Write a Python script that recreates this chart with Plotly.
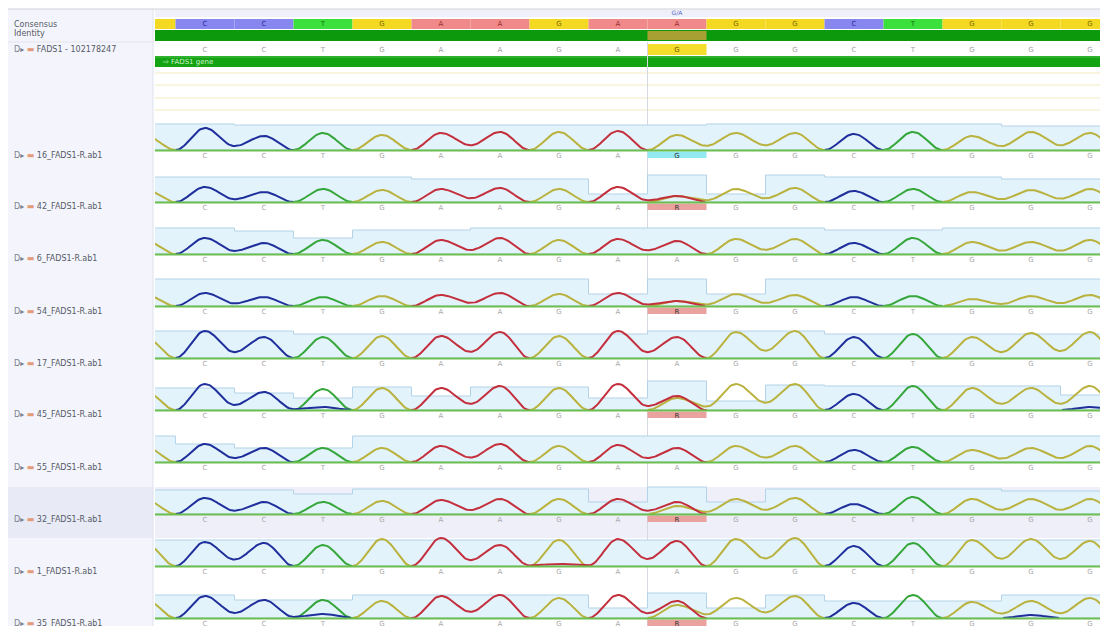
import numpy as np
import plotly.graph_objects as go

W, H = 1108, 626
PAGE_OFF = 8            # the page body margin shifts the figure by 8 px
LEFT_W = 155            # screen x where the alignment panel starts

# ---------------- data ----------------
COLS = list(range(-1, 16))                      # alignment columns (-1 is the partly visible one)
CONSENSUS = ["G", "C", "C", "T", "G", "A", "A", "G", "A", "A", "G", "G", "C", "T", "G", "G", "G"]
REFERENCE = ["G", "C", "C", "T", "G", "A", "A", "G", "A", "G", "G", "G", "C", "T", "G", "G", "G"]
SNP_COL = 8

SAMPLES = ["16_FADS1-R.ab1", "42_FADS1-R.ab1", "6_FADS1-R.ab1", "54_FADS1-R.ab1",
           "17_FADS1-R.ab1", "45_FADS1-R.ab1", "55_FADS1-R.ab1", "32_FADS1-R.ab1",
           "1_FADS1-R.ab1", "35_FADS1-R.ab1"]
SNP_CALLS = ["G", "R", "A", "R", "A", "R", "A", "R", "A", "R"]

# main peak height per column (cols -1..15); at an R column it is the A peak
PEAKS = [
    [14, 22, 14, 17, 15, 17, 18, 18, 19, 15, 17, 17, 16, 18, 14, 18, 17],
    [12, 15, 10, 13, 12, 13, 14, 13, 15, 6, 13, 14, 11, 13, 10, 12, 13],
    [13, 16, 11, 14, 12, 14, 16, 14, 15, 13, 15, 15, 11, 16, 12, 12, 14],
    [11, 13, 9, 9, 10, 11, 13, 12, 13, 5, 12, 11, 9, 10, 7, 10, 11],
    [20, 27, 21, 21, 22, 22, 26, 22, 27, 21, 26, 27, 21, 24, 21, 25, 26],
    [18, 26, 18, 21, 22, 22, 24, 22, 26, 14, 26, 26, 16, 24, 22, 22, 24],
    [15, 18, 14, 14, 14, 16, 18, 16, 17, 14, 16, 16, 12, 15, 12, 14, 16],
    [14, 16, 12, 12, 13, 14, 15, 15, 15, 12, 15, 16, 10, 17, 15, 15, 15],
    [22, 24, 23, 21, 27, 28, 21, 26, 27, 25, 27, 28, 20, 23, 26, 27, 25],
    [18, 22, 18, 18, 17, 22, 23, 20, 23, 17, 20, 22, 15, 23, 16, 17, 20],
]
# G peak height under the heterozygous R call
HET_G = [0, 6, 0, 5, 0, 12, 0, 8, 0, 13]
# small secondary peaks: (sample index, column, base, height)
MINOR = [(5, 2, "C", 3), (5, 15, "C", 3), (9, 2, "C", 4), (9, 14, "C", 3), (8, 6, "A", 2)]

# quality bar heights per column (cols -1..15)
QUAL = [
    [26, 26, 25, 25, 25, 25, 25, 25, 25, 25, 26, 26, 26, 26, 26, 24, 24],
    [25, 25, 25, 25, 25, 23, 23, 23, 8, 27, 8, 27, 25, 25, 25, 23, 23],
    [26, 26, 23, 16, 24, 24, 26, 26, 26, 26, 26, 26, 24, 24, 26, 26, 26],
    [27, 27, 27, 27, 27, 27, 27, 27, 12, 27, 12, 27, 27, 27, 27, 27, 27],
    [27, 27, 27, 24, 24, 24, 24, 24, 24, 27, 27, 27, 24, 24, 24, 24, 24],
    [22, 22, 17, 12, 23, 14, 23, 23, 12, 29, 9, 25, 24, 24, 24, 24, 15],
    [26, 18, 14, 14, 26, 26, 26, 26, 26, 26, 26, 26, 26, 26, 26, 26, 26],
    [24, 24, 24, 20, 25, 25, 25, 25, 12, 27, 12, 25, 25, 25, 25, 23, 23],
    [26, 26, 26, 26, 26, 26, 26, 26, 26, 26, 26, 26, 26, 26, 26, 26, 26],
    [23, 23, 18, 18, 23, 23, 23, 23, 10, 25, 10, 23, 17, 17, 17, 23, 23],
]
HIGHLIGHT_ROW = 7

# ---------------- styling / layout ----------------
TRACE_COL = {"A": "#c32f3c", "C": "#1f2f9c", "G": "#b9b23e", "T": "#35a63a"}
CONS_FILL = {"A": "#f08a8a", "C": "#8787ef", "G": "#f4d923", "T": "#3ce03c"}
CONS_TEXT = {"A": "#9a2a2a", "C": "#2a2a90", "G": "#7a6a00", "T": "#127012"}
FONT = "DejaVu Sans"
LABEL_COL = "#555a66"

COL_PX0, COL_PX = 205.0, 59.0
XMIN = (LEFT_W - COL_PX0) / COL_PX
XMAX = (W + PAGE_OFF - COL_PX0) / COL_PX
ROW_BASE0, ROW_STEP = 150, 52.0
DIP = 0.28


def base_y(r):
    return ROW_BASE0 + r * ROW_STEP


def py(v):          # screen y -> paper
    return 1 - (v - PAGE_OFF) / H


def px(v):          # screen x -> paper
    return (v - PAGE_OFF) / W


fig = go.Figure()
shapes = []
annos = []

# left panel
shapes.append(dict(type="rect", xref="paper", yref="paper", x0=px(8), x1=px(LEFT_W - 2),
                   y0=py(H + PAGE_OFF), y1=py(9), fillcolor="#f4f5fc", line_width=0, layer="below"))
shapes.append(dict(type="line", xref="paper", yref="paper", x0=px(LEFT_W - 2), x1=px(LEFT_W - 2),
                   y0=py(H + PAGE_OFF), y1=py(9), line=dict(color="#dfe1ee", width=1)))
shapes.append(dict(type="line", xref="paper", yref="paper", x0=0, x1=1,
                   y0=py(9), y1=py(9), line=dict(color="#cfd0d8", width=1)))
shapes.append(dict(type="rect", xref="paper", yref="paper", x0=px(LEFT_W), x1=1,
                   y0=py(17), y1=py(9.5), fillcolor="#eff0fa", line_width=0, layer="below"))
shapes.append(dict(type="line", xref="paper", yref="paper", x0=px(8), x1=px(LEFT_W - 2),
                   y0=py(42), y1=py(42), line=dict(color="#e2e3ee", width=1)))
# highlighted sample row
hb = base_y(HIGHLIGHT_ROW)
shapes.append(dict(type="rect", xref="paper", yref="paper", x0=px(8), x1=px(LEFT_W - 2),
                   y0=py(hb + 24), y1=py(hb - 27), fillcolor="#e8eaf6", line_width=0, layer="below"))
shapes.append(dict(type="rect", xref="x", yref="y", x0=XMIN - 1, x1=XMAX + 1,
                   y0=hb + 24, y1=hb - 27, fillcolor="#eeeff9", line_width=0, layer="below"))

# consensus row
for c, b in zip(COLS, CONSENSUS):
    shapes.append(dict(type="rect", xref="x", yref="y", x0=c - 0.5, x1=c + 0.5, y0=19, y1=29,
                       fillcolor=CONS_FILL[b], line_width=0, layer="below"))
# identity row
shapes.append(dict(type="rect", xref="x", yref="y", x0=XMIN - 1, x1=XMAX + 1, y0=30, y1=41,
                   fillcolor="#0c9a0c", line_width=0, layer="below"))
shapes.append(dict(type="rect", xref="x", yref="y", x0=SNP_COL - 0.5, x1=SNP_COL + 0.5, y0=31, y1=40,
                   fillcolor="#a8a032", line_width=0, layer="below"))
# reference row highlight
shapes.append(dict(type="rect", xref="x", yref="y", x0=SNP_COL - 0.5, x1=SNP_COL + 0.5, y0=44, y1=55,
                   fillcolor="#f5dd2c", line_width=0, layer="below"))
# annotation (gene) bar
shapes.append(dict(type="rect", xref="x", yref="y", x0=XMIN - 1, x1=XMAX + 1, y0=56, y1=67,
                   fillcolor="#13a313", line_width=0, layer="below"))
shapes.append(dict(type="line", xref="x", yref="y", x0=XMIN - 1, x1=XMAX + 1, y0=57, y1=57,
                   line=dict(color="#4cc34c", width=1), layer="below"))
# empty yellow tracks
for yy in [73, 85, 98, 110]:
    shapes.append(dict(type="line", xref="x", yref="y", x0=XMIN - 1, x1=XMAX + 1, y0=yy, y1=yy,
                       line=dict(color="#f3eabf", width=1), layer="below"))
# SNP column marker line
shapes.append(dict(type="line", xref="x", yref="y", x0=SNP_COL - 0.5, x1=SNP_COL - 0.5, y0=42,
                   y1=H + PAGE_OFF, line=dict(color="#d6d8e2", width=1), layer="below"))

# header texts
hdr_x = [c for c in COLS if c >= 0]
fig.add_trace(go.Scatter(x=hdr_x, y=[24.5] * len(hdr_x), mode="text",
                         text=[CONSENSUS[c + 1] for c in hdr_x],
                         textfont=dict(size=7, family=FONT,
                                       color=[CONS_TEXT[CONSENSUS[c + 1]] for c in hdr_x]),
                         hoverinfo="skip", showlegend=False))
fig.add_trace(go.Scatter(x=hdr_x, y=[50] * len(hdr_x), mode="text",
                         text=[REFERENCE[c + 1] for c in hdr_x],
                         textfont=dict(size=7, family=FONT,
                                       color=["#6a5a00" if c == SNP_COL else "#a2a2a2" for c in hdr_x]),
                         hoverinfo="skip", showlegend=False))
fig.add_trace(go.Scatter(x=[SNP_COL], y=[13], mode="text", text=["G/A"],
                         textfont=dict(size=6, family=FONT, color="#5566c8"),
                         hoverinfo="skip", showlegend=False))

annos.append(dict(xref="paper", yref="paper", x=px(161), y=py(61.5), text="⇨ FADS1 gene",
                  showarrow=False, xanchor="left", yanchor="middle",
                  font=dict(size=7, family=FONT, color="#c8f0c8")))
annos.append(dict(xref="paper", yref="paper", x=px(12), y=py(24.5), text="Consensus",
                  showarrow=False, xanchor="left", yanchor="middle",
                  font=dict(size=8, family=FONT, color=LABEL_COL)))
annos.append(dict(xref="paper", yref="paper", x=px(12), y=py(34), text="Identity",
                  showarrow=False, xanchor="left", yanchor="middle",
                  font=dict(size=8, family=FONT, color=LABEL_COL)))
ICON = "<span style='color:#7a7f8c'>D▸</span> <span style='color:#e39a78'>▬</span> "
annos.append(dict(xref="paper", yref="paper", x=px(12), y=py(50), showarrow=False,
                  text=ICON + "FADS1 - 102178247", xanchor="left", yanchor="middle",
                  font=dict(size=8, family=FONT, color=LABEL_COL)))

# sample rows
NS = 40
for r, name in enumerate(SAMPLES):
    b = base_y(r)
    q = QUAL[r]
    # quality bars
    xs, ys = [], []
    for i, c in enumerate(COLS):
        xs += [c - 0.5, c + 0.5]
        ys += [b - q[i], b - q[i]]
    xs += [COLS[-1] + 0.5, COLS[0] - 0.5, COLS[0] - 0.5]
    ys += [b, b, b - q[0]]
    fig.add_trace(go.Scatter(x=xs, y=ys, mode="lines", fill="toself", fillcolor="#e3f3fb",
                             line=dict(color="#b3d3e8", width=1), hoverinfo="skip", showlegend=False))

    # channel heights
    calls = list(REFERENCE)
    calls[SNP_COL + 1] = SNP_CALLS[r]
    chan = {k: np.zeros(len(COLS)) for k in "ACGT"}
    for i, bc in enumerate(calls):
        if bc == "R":
            chan["A"][i] = PEAKS[r][i]
            chan["G"][i] = HET_G[r]
        else:
            chan[bc][i] = PEAKS[r][i]
    for (ri, c, bc, h) in MINOR:
        if ri == r:
            chan[bc][c + 1] = h

    # highlight box for the SNP call
    call = SNP_CALLS[r]
    if call != CONSENSUS[SNP_COL + 1]:
        shapes.append(dict(type="rect", xref="x", yref="y", x0=SNP_COL - 0.5, x1=SNP_COL + 0.5,
                           y0=b + 1.5, y1=b + 8, line_width=0, layer="below",
                           fillcolor="#93e9f2" if call == "G" else "#eaa29e"))

    for k in ["T", "C", "G", "A"]:
        h = chan[k]
        xx, vv = [], []
        for i, c in enumerate(COLS):
            left_t = 0.0
            right_t = 0.0
            if i > 0 and h[i] > 0 and h[i - 1] > 0:
                left_t = DIP * min(h[i], h[i - 1])
            if i < len(COLS) - 1 and h[i] > 0 and h[i + 1] > 0:
                right_t = DIP * min(h[i], h[i + 1])
            t = np.linspace(-0.5, 0.5, NS, endpoint=False)
            cos2 = np.cos(np.pi * t) ** 2
            trough = np.where(t < 0, left_t, right_t)
            v = trough + (h[i] - trough) * cos2
            xx.extend(c + t)
            vv.extend(v)
        xx = np.array(xx)
        vv = np.array(vv)
        mask = vv > 0.05
        ext = mask.copy()
        ext[1:] |= mask[:-1]
        ext[:-1] |= mask[1:]
        yy = np.where(ext, b - vv, np.nan)
        fig.add_trace(go.Scatter(x=xx, y=yy, mode="lines", line=dict(color=TRACE_COL[k], width=2),
                                 connectgaps=False, hoverinfo="skip", showlegend=False))

    # baseline
    fig.add_trace(go.Scatter(x=[XMIN - 1, XMAX + 1], y=[b + 0.5, b + 0.5], mode="lines",
                             line=dict(color="#6cbf4e", width=2), hoverinfo="skip", showlegend=False))
    # base letters
    fig.add_trace(go.Scatter(x=hdr_x, y=[b + 6.5] * len(hdr_x), mode="text",
                             text=[calls[c + 1] for c in hdr_x],
                             textfont=dict(size=7, family=FONT,
                                           color=["#333333" if (c == SNP_COL and call != "A") else "#a8a8a8"
                                                  for c in hdr_x]),
                             hoverinfo="skip", showlegend=False))
    # label
    annos.append(dict(xref="paper", yref="paper", x=px(12), y=py(b + 5), showarrow=False,
                      text=ICON + name, xanchor="left", yanchor="middle",
                      font=dict(size=8, family=FONT, color=LABEL_COL)))

fig.update_layout(
    width=W, height=H, margin=dict(l=0, r=0, t=0, b=0),
    paper_bgcolor="white", plot_bgcolor="white",
    xaxis=dict(domain=[px(LEFT_W), 1], range=[XMIN, XMAX], visible=False, fixedrange=True),
    yaxis=dict(domain=[0, 1], range=[H + PAGE_OFF, PAGE_OFF], visible=False, fixedrange=True),
    shapes=shapes, annotations=annos, showlegend=False,
)
fig.write_html("out.html")
